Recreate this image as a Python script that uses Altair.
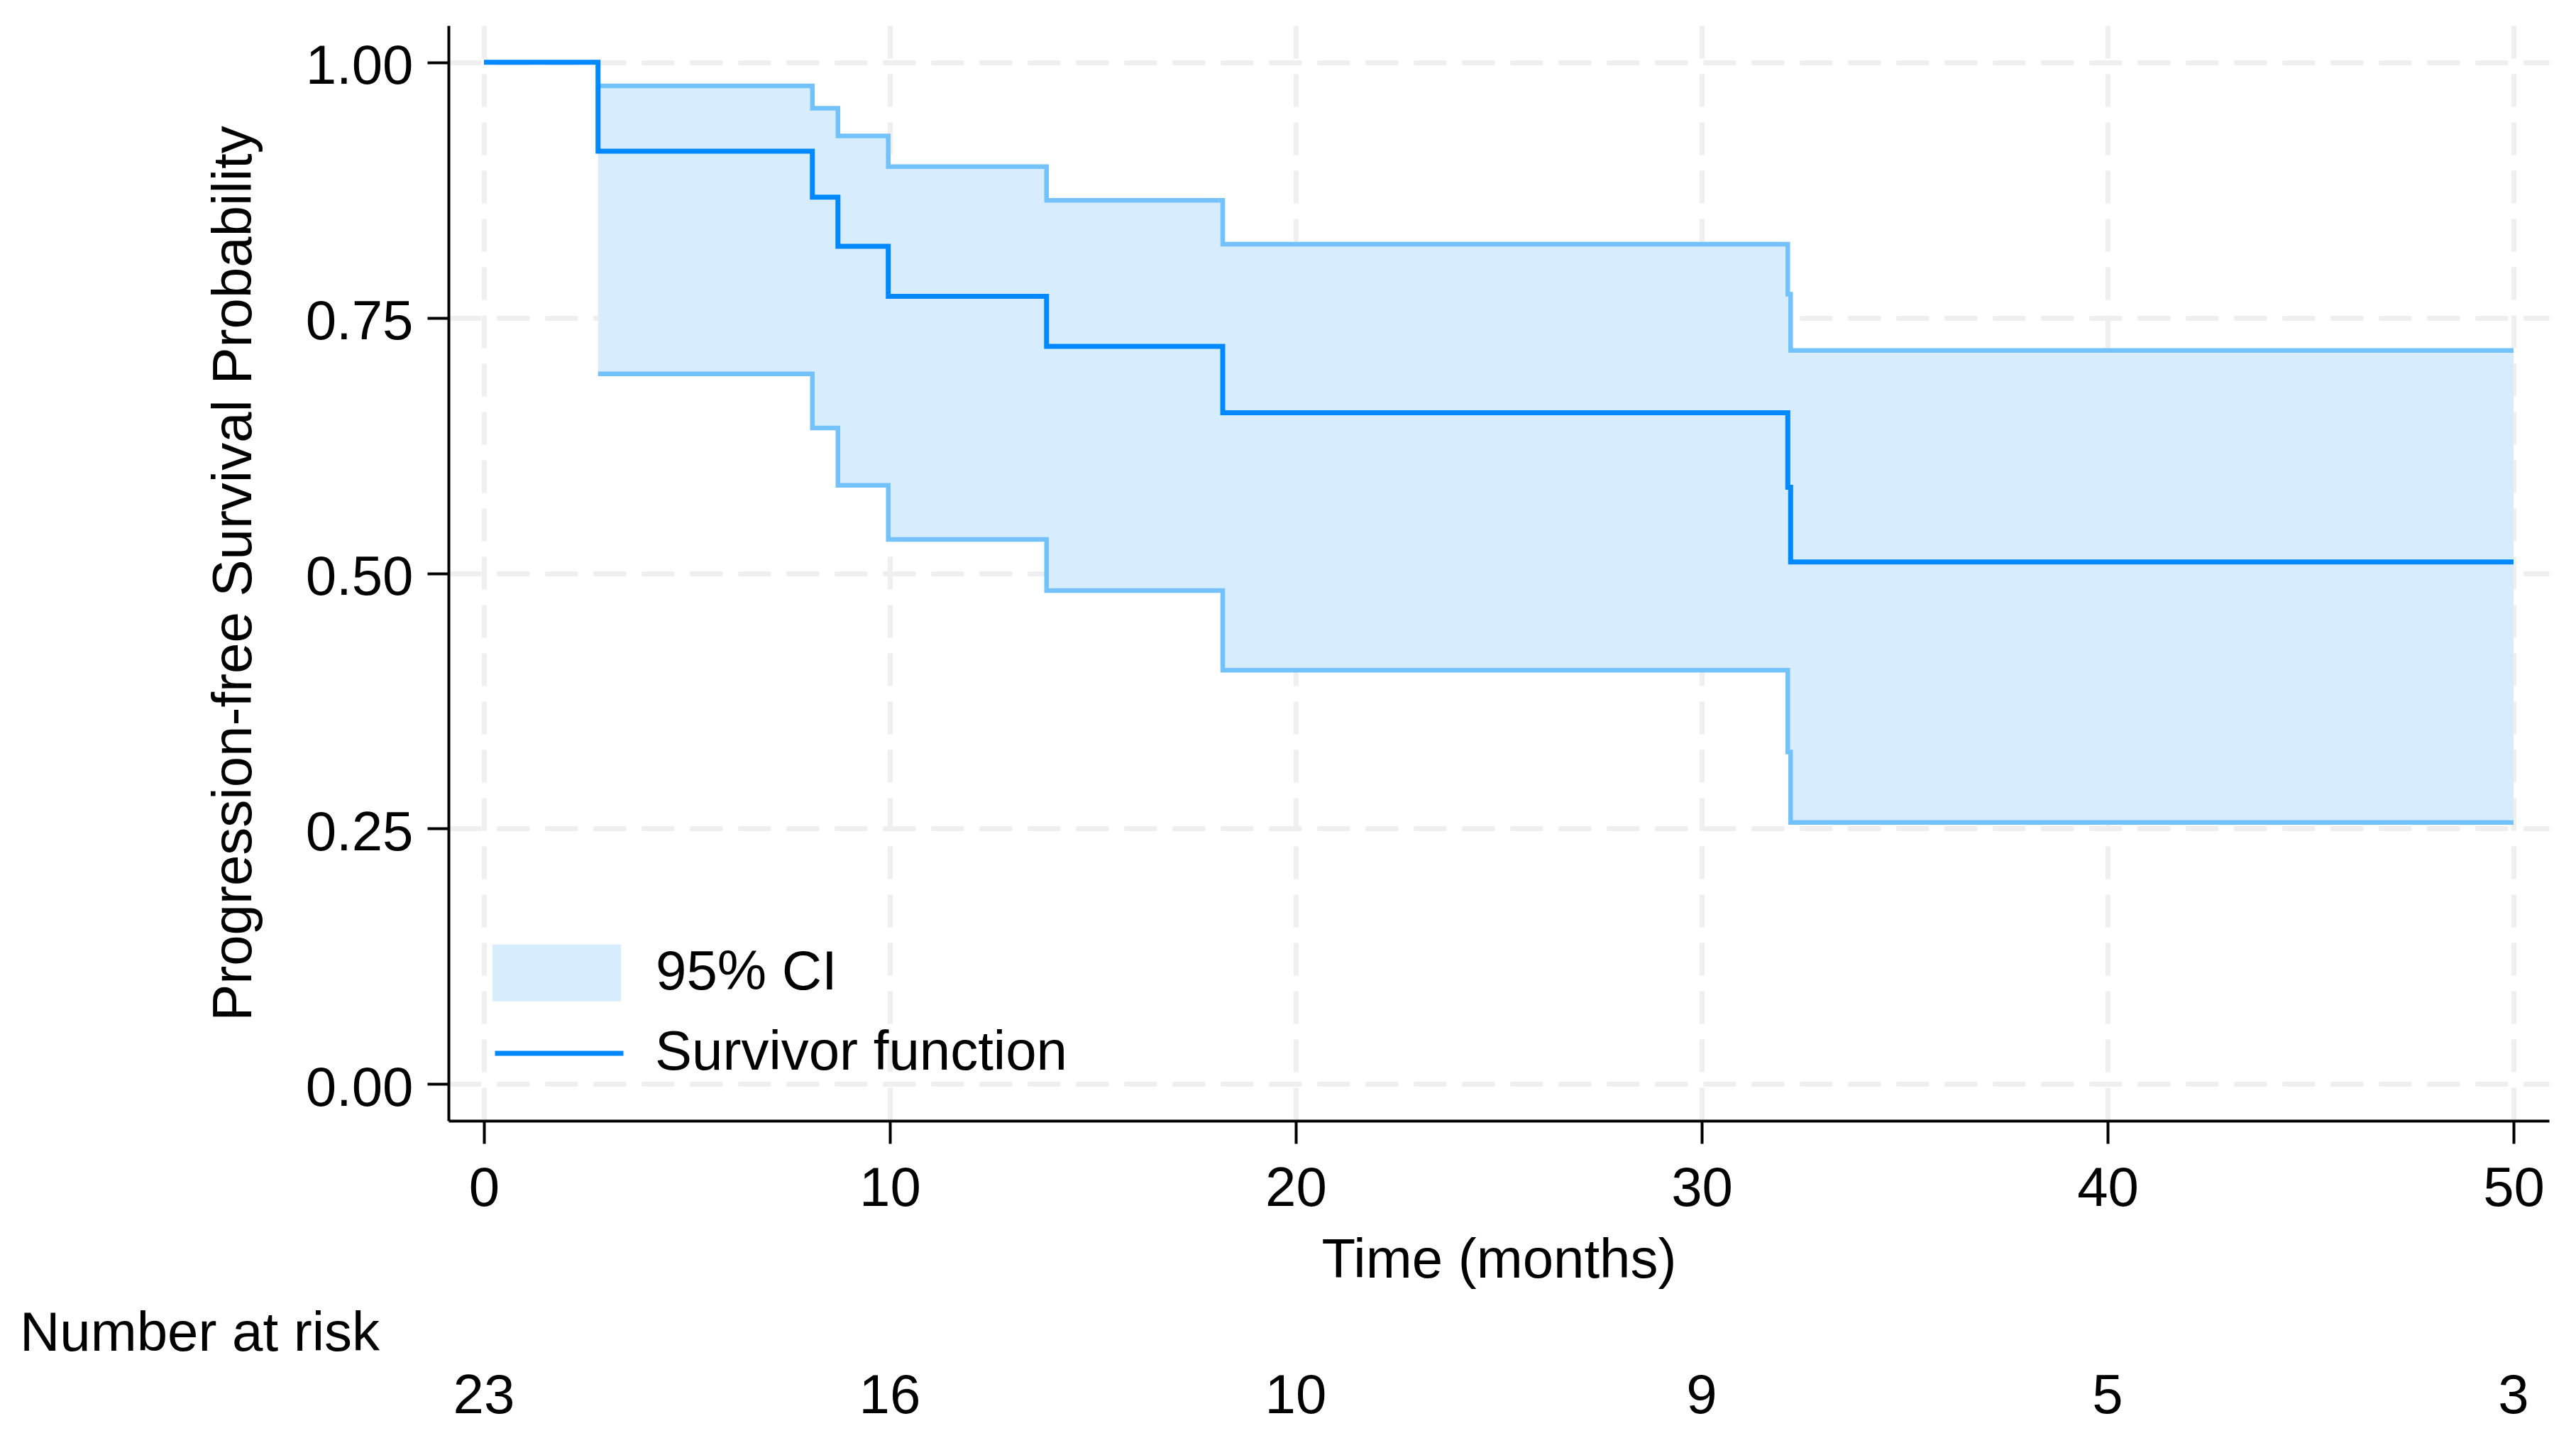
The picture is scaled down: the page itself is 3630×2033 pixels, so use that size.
import altair as alt
import pandas as pd

# ---- data ----
sf_time = [0, 2.81, 8.09, 8.72, 9.96, 13.86, 18.2, 32.12, 32.19, 50]
sf_prob = [1.0, 0.913, 0.868, 0.820, 0.771, 0.722, 0.657, 0.584, 0.511, 0.511]

ci_time = [2.81, 8.09, 8.72, 9.96, 13.86, 18.2, 32.12, 32.19, 50]
ci_upper = [0.977, 0.955, 0.928, 0.898, 0.865, 0.822, 0.773, 0.718, 0.718]
ci_lower = [0.695, 0.642, 0.586, 0.533, 0.483, 0.405, 0.325, 0.256, 0.256]

risk_time = [0, 10, 20, 30, 40, 50]
risk_n = [23, 16, 10, 9, 5, 3]
risk_title = ["Number at risk"]

x_ticks = [0, 10, 20, 30, 40, 50]
y_ticks = [0.0, 0.25, 0.5, 0.75, 1.0]

ci_name = "95% CI"
sf_name = "Survivor function"

FONT = "Liberation Sans"
FS = 78

sf_df = pd.DataFrame({"time": sf_time, "prob": sf_prob, "series": sf_name})
ci_df = pd.DataFrame({"time": ci_time, "lower": ci_lower, "upper": ci_upper, "series": ci_name})
risk_df = pd.DataFrame({"time": risk_time, "n": risk_n})
lab_df = pd.DataFrame({"label": risk_title})

xscale = alt.Scale(domain=[-0.874, 50.874], nice=False, zero=False)
yscale = alt.Scale(domain=[-0.036, 1.036], nice=False, zero=False)

xaxis = alt.Axis(values=x_ticks, format="d", title="Time (months)", grid=True,
                 tickSize=32, labelBaseline="alphabetic", labelPadding=87,
                 titleBaseline="alphabetic", titleY=220)
yaxis = alt.Axis(values=y_ticks, format=".2f", title="Progression-free Survival Probability",
                 grid=True, tickSize=30, labelPadding=20, labelBaseline="alphabetic",
                 labelOffset=30, titleAngle=270, titleAlign="center",
                 titleBaseline="alphabetic", titleX=-279, titleY=771.5)


def X():
    return alt.X("time:Q", scale=xscale, axis=xaxis)


def Y(field):
    return alt.Y(field, scale=yscale, axis=yaxis)


band = alt.Chart(ci_df).mark_area(interpolate="step-after", opacity=1).encode(
    x=X(),
    y=Y("lower:Q"),
    y2="upper:Q",
    fill=alt.Fill("series:N",
                  scale=alt.Scale(domain=[ci_name], range=["#d7edfd"]),
                  legend=alt.Legend(title=None, orient="none", legendX=62, legendY=1244,
                                    symbolType="M-1,-0.442H1V0.442H-1Z", symbolSize=32761,
                                    symbolStrokeWidth=0, symbolOpacity=1,
                                    labelFont=FONT, labelFontSize=FS, labelColor="black",
                                    labelOffset=49, labelLimit=2000, padding=0)),
)

upper = alt.Chart(ci_df).mark_line(interpolate="step-after", color="#74c2fb", strokeWidth=6.5).encode(
    x=X(), y=Y("upper:Q"))
lower = alt.Chart(ci_df).mark_line(interpolate="step-after", color="#74c2fb", strokeWidth=6.5).encode(
    x=X(), y=Y("lower:Q"))

surv = alt.Chart(sf_df).mark_line(interpolate="step-after", strokeWidth=7).encode(
    x=X(),
    y=Y("prob:Q"),
    stroke=alt.Stroke("series:N",
                      scale=alt.Scale(domain=[sf_name], range=["#0088ff"]),
                      legend=alt.Legend(title=None, orient="none", legendX=62, legendY=1354,
                                        symbolType="stroke", symbolSize=32761,
                                        symbolStrokeWidth=7,
                                        labelFont=FONT, labelFontSize=FS, labelColor="black",
                                        labelOffset=41, labelLimit=2000, padding=0)),
)

risk = alt.Chart(risk_df).mark_text(font=FONT, fontSize=FS, align="center",
                                    baseline="alphabetic", color="black").encode(
    x=X(), y=alt.value(1955), text="n:Q")

risk_lab = alt.Chart(lab_df).mark_text(font=FONT, fontSize=FS, align="left",
                                       baseline="alphabetic", color="black").encode(
    x=alt.value(-604), y=alt.value(1867), text="label:N")

chart = alt.layer(band, upper, lower, surv, risk, risk_lab).resolve_scale(
    fill="independent", stroke="independent"
).properties(
    width=2960, height=1543,
    autosize=alt.AutoSizeParams(type="none"),
    padding={"left": 624, "top": 28, "right": 22, "bottom": 438},
    background="white",
).configure_view(stroke=None).configure_axis(
    domainColor="black", domainWidth=4, tickColor="black", tickWidth=4,
    labelFont=FONT, labelFontSize=FS, labelColor="black",
    titleFont=FONT, titleFontSize=FS, titleFontWeight="normal", titleColor="black",
    gridColor="#efefef", gridWidth=7, gridDash=[46, 22],
)

chart.save("out.html", embed_options={"renderer": "svg", "actions": False})
